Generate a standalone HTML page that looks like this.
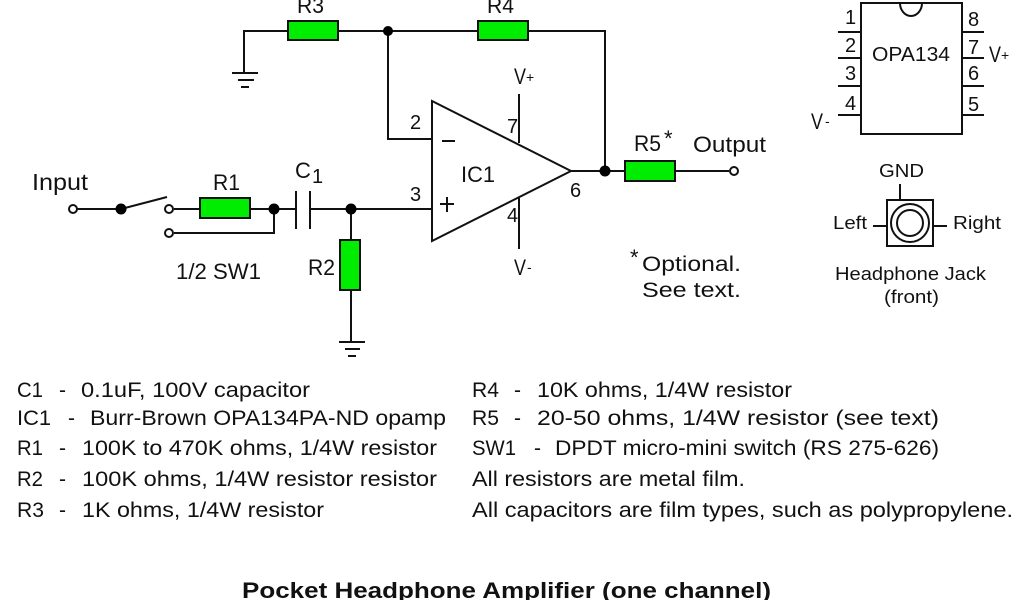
<!DOCTYPE html>
<html><head><meta charset="utf-8"><style>
html,body{margin:0;padding:0;background:#fff}
svg{display:block}
text{font-family:"Liberation Sans",sans-serif;fill:#111;font-size:22px}
.s{font-size:18px}.m{font-size:20px}.l{font-size:21px}.t{font-size:14px}
</style></head><body>
<svg width="1024" height="600" viewBox="0 0 1024 600" xmlns="http://www.w3.org/2000/svg">
<rect width="1024" height="600" fill="#fff"/>
<g fill="none" stroke="#111" stroke-width="2">
<path d="M232 73H258M238 80H254M241 87H249M244 73V31H287M338 31H477M529 31H605V171M388 31V139H432"/>
<path d="M339 342H365M345 349H360M348 356H356M351 290V342M351 209V239"/>
<path d="M432 101V241L571 171ZM571 171H625M675 171H729M519 94V143M519 198V249"/>
<path d="M77 209H121L167 197M174 209H200M250 209H296M310 209H432M274 209V233H174M296 191V229M310 191V229"/>
<path d="M442 141H455M440 204H454M447 197V212"/>
<path d="M861 3H962V134H861ZM900 3A11 13 0 0 0 922 3"/>
<path d="M838 32H861M838 58H861M838 86H861M838 115H861M962 32H984M962 58H984M962 86H984M962 115H984"/>
<path d="M887 200H933V246H887ZM900 184V200M873 226H887M933 226H947"/>
<circle cx="910" cy="223" r="19"/><circle cx="910" cy="223" r="13"/>
<circle cx="73" cy="209" r="4"/><circle cx="169" cy="209" r="4"/><circle cx="169" cy="233" r="4"/><circle cx="734" cy="171" r="4"/>
<g fill="#00ec00"><rect x="288" y="21" width="50" height="19"/><rect x="478" y="21" width="50" height="19"/><rect x="200" y="198" width="50" height="20"/><rect x="625" y="161" width="50" height="20"/><rect x="340" y="240" width="20" height="50"/></g>
</g>
<g fill="#000"><circle cx="388" cy="31" r="5"/><circle cx="605" cy="171" r="5.5"/><circle cx="121" cy="209" r="5.5"/><circle cx="274" cy="209" r="5.5"/><circle cx="351" cy="209" r="5.5"/></g>

<text x="297" y="13" textLength="27" lengthAdjust="spacingAndGlyphs">R3</text>
<text x="487" y="13" textLength="27" lengthAdjust="spacingAndGlyphs">R4</text>
<text x="32" y="190" textLength="56" lengthAdjust="spacingAndGlyphs" style="font-size:23px">Input</text>
<text x="213" y="190" textLength="27" lengthAdjust="spacingAndGlyphs">R1</text>
<text x="295" y="178">C</text><text class="m" x="312" y="183">1</text>
<text x="176" y="279" textLength="85" lengthAdjust="spacingAndGlyphs">1/2 SW1</text>
<text x="308" y="275" textLength="27" lengthAdjust="spacingAndGlyphs">R2</text>
<text class="m" x="410" y="129">2</text><text class="m" x="410" y="201">3</text>
<text class="m" x="507" y="133">7</text><text class="m" x="507" y="222">4</text><text class="m" x="570" y="197">6</text>
<text x="461" y="182" textLength="34" lengthAdjust="spacingAndGlyphs">IC1</text>
<text x="514" y="84" textLength="12" lengthAdjust="spacingAndGlyphs">V</text><text class="t" x="526" y="82">+</text>
<text x="514" y="275" textLength="12" lengthAdjust="spacingAndGlyphs">V</text><text class="t" x="527" y="272">-</text>
<text x="634" y="151" textLength="27" lengthAdjust="spacingAndGlyphs">R5</text>
<text x="664" y="146">*</text>
<text x="693" y="152" textLength="73" lengthAdjust="spacingAndGlyphs">Output</text>
<text x="630" y="265">*</text>
<text class="l" x="642" y="271" textLength="99" lengthAdjust="spacingAndGlyphs">Optional.</text>
<text class="l" x="642" y="297" textLength="99" lengthAdjust="spacingAndGlyphs">See text.</text>

<text class="m" x="845" y="24">1</text><text class="m" x="845" y="52">2</text><text class="m" x="845" y="80">3</text><text class="m" x="845" y="110">4</text>
<text class="m" x="968" y="26">8</text><text class="m" x="968" y="54">7</text><text class="m" x="968" y="80">6</text><text class="m" x="968" y="111">5</text>
<text class="m" x="872" y="61" textLength="78" lengthAdjust="spacingAndGlyphs">OPA134</text>
<text x="989" y="62" textLength="12" lengthAdjust="spacingAndGlyphs">V</text><text class="t" x="1001" y="60">+</text>
<text x="811" y="129" textLength="12" lengthAdjust="spacingAndGlyphs">V</text><text class="t" x="825" y="126">-</text>
<text class="s" x="879" y="177" textLength="45" lengthAdjust="spacingAndGlyphs">GND</text>
<text class="s" x="833" y="229" textLength="34" lengthAdjust="spacingAndGlyphs">Left</text>
<text class="s" x="953" y="229" textLength="48" lengthAdjust="spacingAndGlyphs">Right</text>
<text class="s" x="835" y="280" textLength="151" lengthAdjust="spacingAndGlyphs">Headphone Jack</text>
<text class="s" x="884" y="303" textLength="55" lengthAdjust="spacingAndGlyphs">(front)</text>

<g class="list">
<text class="l" x="17" y="397" textLength="26" lengthAdjust="spacingAndGlyphs">C1</text><text class="l" x="59" y="397">-</text><text class="l" x="81" y="397" textLength="229" lengthAdjust="spacingAndGlyphs">0.1uF, 100V capacitor</text>
<text class="l" x="17" y="425" textLength="34" lengthAdjust="spacingAndGlyphs">IC1</text><text class="l" x="68" y="425">-</text><text class="l" x="90" y="425" textLength="356" lengthAdjust="spacingAndGlyphs">Burr-Brown OPA134PA-ND opamp</text>
<text class="l" x="17" y="455" textLength="26" lengthAdjust="spacingAndGlyphs">R1</text><text class="l" x="59" y="455">-</text><text class="l" x="82" y="455" textLength="355" lengthAdjust="spacingAndGlyphs">100K to 470K ohms, 1/4W resistor</text>
<text class="l" x="17" y="486" textLength="26" lengthAdjust="spacingAndGlyphs">R2</text><text class="l" x="59" y="486">-</text><text class="l" x="82" y="486" textLength="355" lengthAdjust="spacingAndGlyphs">100K ohms, 1/4W resistor resistor</text>
<text class="l" x="17" y="517" textLength="27" lengthAdjust="spacingAndGlyphs">R3</text><text class="l" x="59" y="517">-</text><text class="l" x="82" y="517" textLength="242" lengthAdjust="spacingAndGlyphs">1K ohms, 1/4W resistor</text>
<text class="l" x="472" y="397" textLength="27" lengthAdjust="spacingAndGlyphs">R4</text><text class="l" x="514" y="397">-</text><text class="l" x="537" y="397" textLength="255" lengthAdjust="spacingAndGlyphs">10K ohms, 1/4W resistor</text>
<text class="l" x="472" y="425" textLength="27" lengthAdjust="spacingAndGlyphs">R5</text><text class="l" x="514" y="425">-</text><text class="l" x="537" y="425" textLength="402" lengthAdjust="spacingAndGlyphs">20-50 ohms, 1/4W resistor (see text)</text>
<text class="l" x="472" y="455" textLength="44" lengthAdjust="spacingAndGlyphs">SW1</text><text class="l" x="534" y="455">-</text><text class="l" x="555" y="455" textLength="384" lengthAdjust="spacingAndGlyphs">DPDT micro-mini switch (RS 275-626)</text>
<text class="l" x="472" y="486" textLength="273" lengthAdjust="spacingAndGlyphs">All resistors are metal film.</text>
<text class="l" x="472" y="517" textLength="541" lengthAdjust="spacingAndGlyphs">All capacitors are film types, such as polypropylene.</text>
</g>
<text x="242" y="598" textLength="529" lengthAdjust="spacingAndGlyphs" style="font-weight:bold;font-size:22px">Pocket Headphone Amplifier (one channel)</text>
</svg>
</body></html>
